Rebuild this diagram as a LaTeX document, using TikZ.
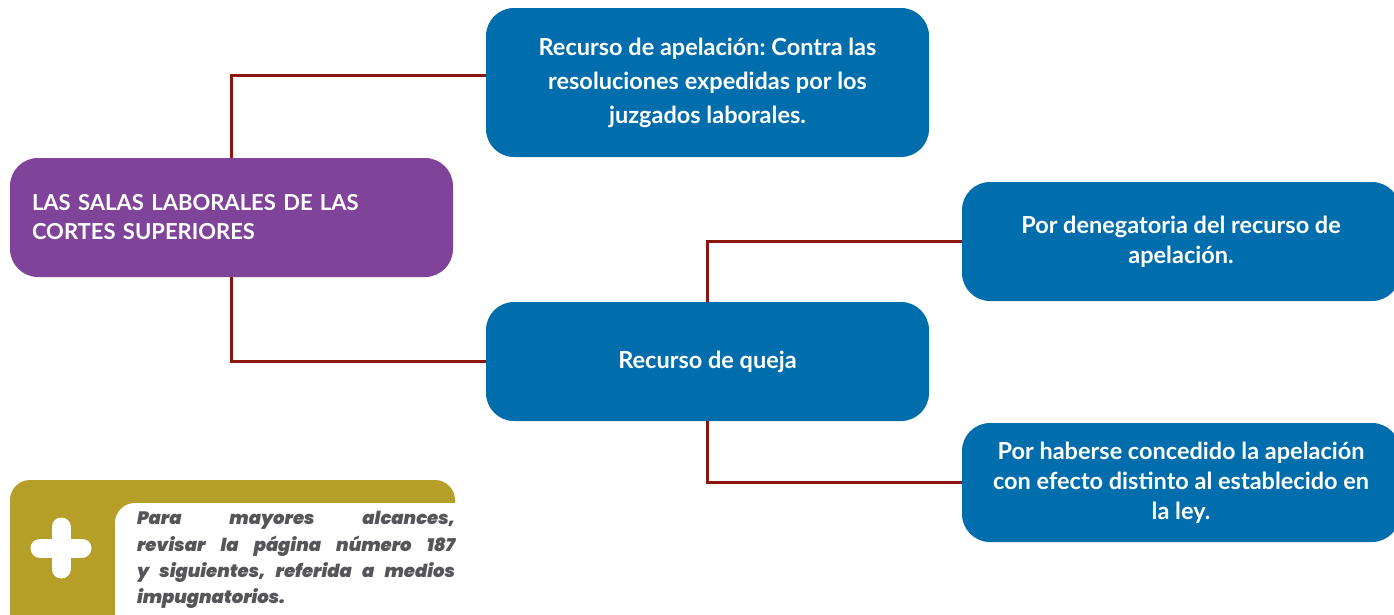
\documentclass[tikz,border=0pt]{standalone}
\usepackage{fontspec}
\setmainfont{Lato}
\newfontfamily\notefont{Poppins}[BoldItalicFont={* Black Italic}]
\usetikzlibrary{positioning}
\definecolor{azul}{RGB}{0,110,172}
\definecolor{morado}{RGB}{127,68,153}
\definecolor{oro}{RGB}{181,159,40}
\definecolor{rojo}{RGB}{140,22,14}
\definecolor{gris}{RGB}{85,85,90}
\frenchspacing
\tikzset{
  caja/.style={fill=azul, rounded corners=28pt, minimum width=443pt, minimum height=149pt,
    inner sep=0pt, text=white, align=center, font=\bfseries\fontsize{23.5}{34}\selectfont},
  enlace/.style={draw=rojo, line width=3pt},
}
\begin{document}
\begin{tikzpicture}[x=1pt, y=-1pt]
		\useasboundingbox (0,0) rectangle (1394,614);
		\clip (0,0) rectangle (1394,614);
		% cajas principales
		\node[caja, fill=morado, minimum height=119pt, text width=399pt, align=left,
			font=\bfseries\fontsize{22}{29}\selectfont] (salas) at (231.5,217.5)
			{LAS SALAS LABORALES DE LAS\\CORTES SUPERIORES};
		\node[caja] (apelacion) at (707.5,82.5)
			{Recurso de apelación: Contra las\\resoluciones expedidas por los\\juzgados laborales.};
		\node[caja, minimum height=119pt] (queja) at (707.5,361.5) {Recurso de queja};
		\node[caja, minimum width=438pt, minimum height=119pt, font=\bfseries\fontsize{23.5}{30}\selectfont] (denegatoria) at (1181,241.5)
			{Por denegatoria del recurso de\\apelación.};
		\node[caja, minimum width=438pt, minimum height=119pt, font=\bfseries\fontsize{23.5}{30}\selectfont] (efecto) at (1181,482.5)
			{Por haberse concedido la apelación\\con efecto distinto al establecido en\\la ley.};
		% conectores
		\draw[enlace] (salas.north) |- ([yshift=7pt]apelacion.west);
		\draw[enlace] (salas.south) |- (queja.west);
		\draw[enlace] (queja.north) |- (denegatoria.west);
		\draw[enlace] (queja.south) |- (efecto.west);
		% recuadro de nota
		\fill[oro, rounded corners=20pt] (10,650) -- (10,480) -- (455,480) -- (455,650) -- cycle;
		\fill[white, rounded corners=20pt] (115,650) -- (115,503) -- (480,503) -- (480,650) -- cycle;
		\draw[white, line width=19pt, line cap=round] (61,527) -- (61,569) (40,548) -- (82,548);
		\node[text width=318pt, align=justify, inner sep=0pt, text=gris,
			font=\notefont\bfseries\itshape\fontsize{18}{26.3}\selectfont] (nota) at (296,560)
			{Para mayores alcances,\linebreak revisar la página número 187\linebreak y siguientes, referida a medios\linebreak impugnatorios.};
	\end{tikzpicture}
\end{document}
